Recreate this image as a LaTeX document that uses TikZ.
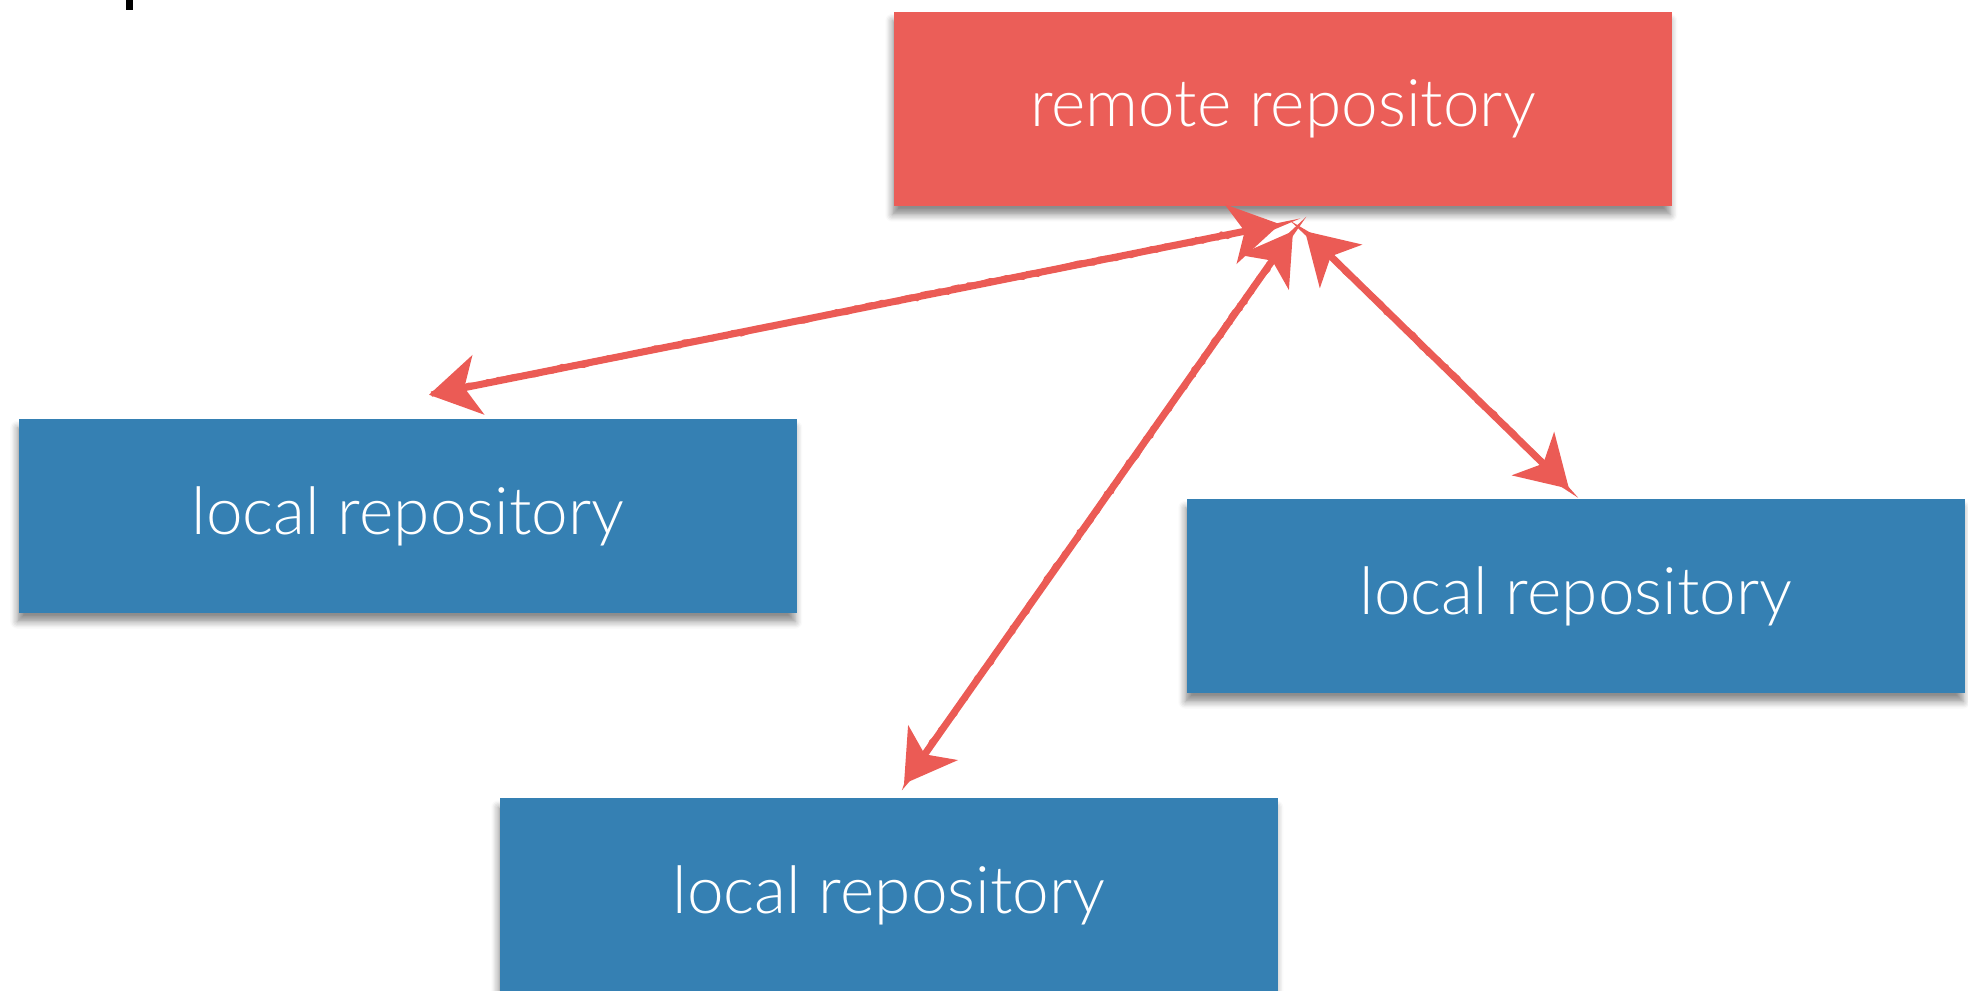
\documentclass[tikz,border=0pt]{standalone}
\usepackage{fontspec}
\setmainfont{Lato}[UprightFont=* Light]
\usetikzlibrary{arrows.meta, shadows.blur, decorations.pathmorphing}

\begin{document}
\begin{tikzpicture}[scale=1, transform shape]
    \definecolor{remoteColour}{HTML}{EB5E58}
    \definecolor{localColour}{HTML}{3580B3}
    \definecolor{arrowColour}{HTML}{EB5B55}

    \tikzset{
        repoBox/.style={minimum width=7.78cm, minimum height=1.94cm, inner sep=0pt,
            text=white, font=\fontsize{18.7}{22}\selectfont,
            blur shadow={shadow xshift=-0.5pt, shadow yshift=-2.5pt, shadow blur steps=6, shadow opacity=45}},
        sketchArrow/.style={draw=arrowColour, line width=2pt,
            {Stealth[length=0.5cm, width=0.6cm, inset=0.14cm]}-{Stealth[length=0.5cm, width=0.6cm, inset=0.14cm]},
            postaction={draw=arrowColour, line width=1.5pt, -, shorten <=0.3cm, shorten >=0.3cm,
                decoration={random steps, segment length=1.5pt, amplitude=0.45pt}, decorate}}
    }

    % Fix the page size
    \useasboundingbox (0,0) rectangle (19.68,9.91);

    % Cut-off glyph in the upper left corner
    \fill[black] (1.26,9.81) rectangle (1.33,9.91);

    % Draw the repositories
    \node[repoBox, fill=remoteColour] (remote) at (12.83,8.82) {remote repository};
    \node[repoBox, fill=localColour] (localA) at (4.08,4.75) {local repository};
    \node[repoBox, fill=localColour] (localB) at (15.76,3.95) {local repository};
    \node[repoBox, fill=localColour] (localC) at (8.89,0.955) {local repository};

    % Draw the push / pull arrows
    \draw[sketchArrow] ([xshift=-0.03cm, yshift=-0.175cm]remote.south) -- ([xshift=0.21cm, yshift=0.235cm]localA.north);
    \draw[sketchArrow] ([xshift=0.10cm, yshift=-0.245cm]remote.south) -- ([xshift=0.15cm, yshift=0.14cm]localC.north);
    \draw[sketchArrow] ([xshift=0.22cm, yshift=-0.245cm]remote.south) -- ([xshift=-0.07cm, yshift=0.095cm]localB.north);

\end{tikzpicture}
\end{document}
